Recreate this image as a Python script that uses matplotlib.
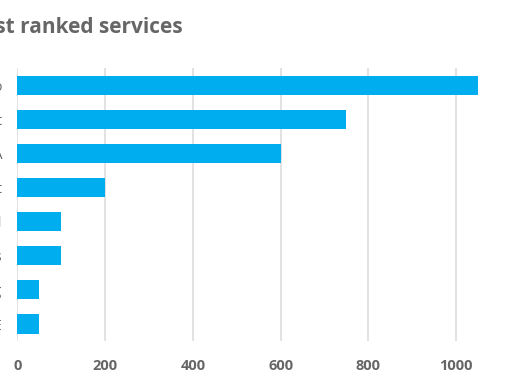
import matplotlib.pyplot as plt

# data, top to bottom
services = ["Video", "Support", "QA", "Chat", "Mail", "Docs", "Billing", "CORE"]
counts = [1050, 750, 600, 200, 100, 100, 50, 50]
xticks = [0, 200, 400, 600, 800, 1000]

plt.rcParams['font.family'] = ['Open Sans', 'DejaVu Sans']

fig = plt.figure(figsize=(5.1, 3.82), dpi=100)
ax = fig.add_axes([0.0343, 0.107, 0.946, 0.715])

ypos = list(range(len(services)))
ax.barh(ypos, counts, height=0.56, color="#00AEEF", zorder=3)
ax.set_ylim(len(services) - 0.5, -0.5)
ax.set_xlim(0, 1100)
ax.set_yticks(ypos)
ax.set_yticklabels(services, color="#666666", fontsize=10)
ax.set_xticks(xticks)
ax.set_xticklabels([str(t) for t in xticks], color="#666666", fontsize=10.5, fontweight="bold")
ax.tick_params(axis="both", length=0)
ax.tick_params(axis="x", pad=13)
ax.tick_params(axis="y", pad=11)

ax.grid(axis="x", color="#dddddd", linewidth=1.2, zorder=0)
for s in ax.spines.values():
    s.set_visible(False)

fig.text(183 / 510, 1 - 28 / 382, "Highest ranked services", ha="right", va="center",
         fontsize=15, fontweight="bold", color="#666666")

fig.savefig("out.png", dpi=100)
